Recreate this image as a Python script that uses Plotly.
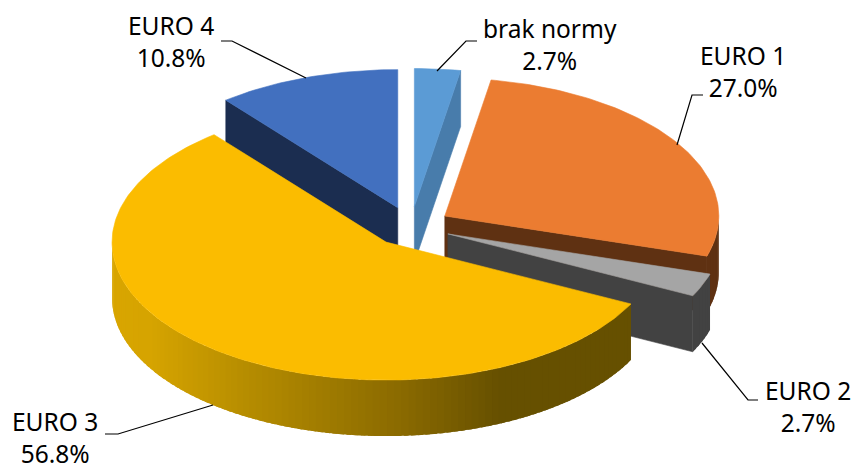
import numpy as np
import plotly.graph_objects as go

categories = ["brak normy", "EURO 1", "EURO 2", "EURO 3", "EURO 4"]
values = [2.7, 27.0, 2.7, 56.8, 10.8]
top_colors = ["#5B9BD5", "#EB7C31", "#A5A5A5", "#FBBC00", "#4270BF"]
wall_colors = ["#487CAB", "#5F3112", "#424242", "#D9A600", "#1B2D50"]
label_pos = [(550, 44), (743, 71), (808, 406), (55, 437), (171, 41)]
leaders = [
    [(477, 41), (466, 41), (437, 71)],
    [(703, 95), (692, 95), (677, 145)],
    [(702, 343), (748, 400), (758, 400)],
    [(105, 434), (118, 434), (213, 405)],
    [(221, 41), (232, 41), (306, 78)],
]
gradient_stops_x = [112, 150, 250, 400, 500, 632]
gradient_stops_rgb = [(217, 166, 0), (214, 164, 0), (181, 140, 0), (138, 106, 0), (102, 80, 0), (102, 80, 0)]

CX, CY = 411.0, 226.5
RX, RY = 274.0, 138.0
DEPTH = 56.0
EXPLODE = 0.145

fig = go.Figure()


def poly(xs, ys, color, outline=True):
    fig.add_trace(go.Scatter(x=list(xs), y=list(ys), mode="lines" if outline else "none",
                             fill="toself", fillcolor=color,
                             line=dict(color=color, width=0.6),
                             hoverinfo="skip", showlegend=False))


def rim(cx, cy, deg):
    t = np.radians(deg)
    return cx + RX * np.sin(t), cy - RY * np.cos(t)


bounds = np.concatenate([[0], np.cumsum(values)]) / sum(values) * 360
slices = []
for i in range(len(values)):
    a0, a1 = bounds[i], bounds[i + 1]
    mid = np.radians((a0 + a1) / 2)
    cx = CX + EXPLODE * RX * np.sin(mid)
    cy = CY - EXPLODE * RY * np.cos(mid)
    slices.append((i, a0, a1, cx, cy))


def face(cx, cy, deg, color):
    x, y = rim(cx, cy, deg)
    poly([cx, x, x, cx, cx], [cy, y, y + DEPTH, cy + DEPTH, cy], color)


def wall_color(i, xmid):
    if categories[i] != "EURO 3":
        return wall_colors[i]
    rgb = [np.interp(xmid, gradient_stops_x, [s[k] for s in gradient_stops_rgb]) for k in range(3)]
    return "rgb(%d,%d,%d)" % tuple(rgb)


# painter's order: back slices first, front-most slice last
for i, a0, a1, cx, cy in [slices[j] for j in (4, 0, 1, 2, 3)]:
    # straight cut faces that turn towards the viewer
    if a1 < 180 and categories[i] != "EURO 3":
        face(cx, cy, a1, wall_colors[i])
    if a0 > 270:
        face(cx, cy, a0, wall_colors[i])
    # outer wall (lower half of the ellipse), overlapping strips to avoid seams
    lo, hi = max(a0, 90), min(a1, 270)
    if hi > lo:
        n = max(1, int((hi - lo) / 1.5))
        edges = np.linspace(lo, hi, n + 1)
        for e0, e1 in zip(edges[:-1], edges[1:]):
            ts = np.linspace(e0, min(e1 + 1.0, hi), 5)
            px, py = rim(cx, cy, ts)
            poly(np.r_[px, px[::-1]], np.r_[py, py[::-1] + DEPTH],
                 wall_color(i, px.mean()), outline=False)
    # top surface
    ts = np.linspace(a0, a1, max(8, int(a1 - a0)))
    px, py = rim(cx, cy, ts)
    poly(np.r_[cx, px, cx], np.r_[cy, py, cy], top_colors[i])

for pts in leaders:
    fig.add_trace(go.Scatter(x=[p[0] for p in pts], y=[p[1] for p in pts], mode="lines",
                             line=dict(color="#000000", width=1.2),
                             hoverinfo="skip", showlegend=False))

for name, v, (x, y) in zip(categories, values, label_pos):
    fig.add_annotation(x=x, y=y, text=f"{name}<br>{v:.1f}%", showarrow=False,
                       xanchor="center", yanchor="middle", align="center",
                       font=dict(family="Noto Sans", size=24.5, color="#000000"))

fig.update_layout(
    width=857, height=466, margin=dict(l=0, r=0, t=0, b=0),
    paper_bgcolor="white", plot_bgcolor="white",
    xaxis=dict(range=[0, 857], visible=False, fixedrange=True),
    yaxis=dict(range=[466, 0], visible=False, fixedrange=True),
)
fig.write_html("out.html", config={"displayModeBar": False},
               post_script="document.body.style.margin='0';document.body.style.overflow='hidden';")
